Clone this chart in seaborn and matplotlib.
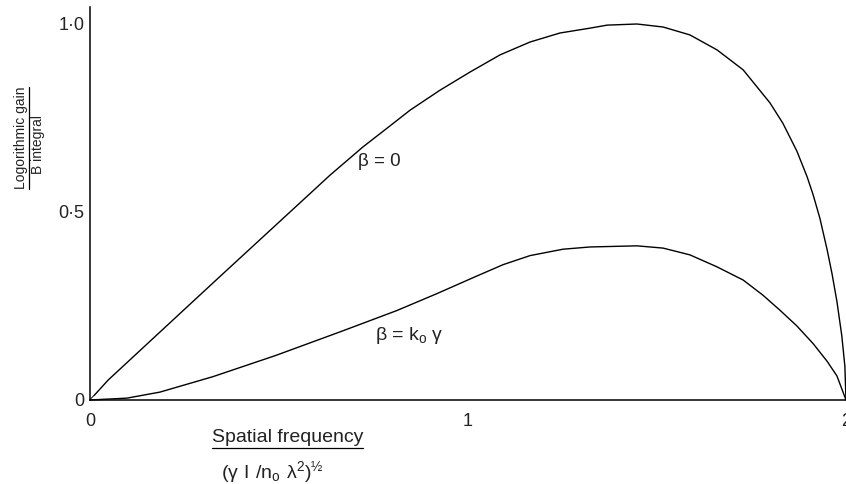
import matplotlib
matplotlib.use("Agg")
import matplotlib.pyplot as plt
import seaborn as sns
import pandas as pd
from matplotlib.lines import Line2D

# ---- data ----
x_beta0 = [0, 0.048, 0.151, 0.325, 0.635, 0.722, 0.786, 0.847, 0.926, 1.005,
           1.085, 1.164, 1.243, 1.323, 1.368, 1.447, 1.516, 1.587, 1.659, 1.728,
           1.799, 1.833, 1.870, 1.897, 1.913, 1.931, 1.950, 1.963, 1.976, 1.989,
           1.997, 2.0]
y_beta0 = [0, 0.053, 0.149, 0.311, 0.598, 0.673, 0.723, 0.771, 0.824, 0.872,
           0.918, 0.952, 0.976, 0.989, 0.997, 1.0, 0.992, 0.971, 0.931, 0.878,
           0.790, 0.736, 0.662, 0.594, 0.546, 0.483, 0.400, 0.336, 0.262, 0.170,
           0.090, 0.0]

x_betak = [0, 0.098, 0.185, 0.325, 0.49, 0.661, 0.722, 0.812, 0.918, 1.024,
           1.093, 1.164, 1.251, 1.323, 1.447, 1.516, 1.587, 1.659, 1.728, 1.780,
           1.825, 1.870, 1.913, 1.950, 1.976, 2.0]
y_betak = [0, 0.005, 0.021, 0.062, 0.118, 0.181, 0.204, 0.238, 0.283, 0.330,
           0.360, 0.384, 0.401, 0.407, 0.410, 0.404, 0.386, 0.354, 0.319, 0.279,
           0.239, 0.197, 0.150, 0.103, 0.064, 0.0]

x_ticks = [0, 1, 2]
x_ticklabels = ["0", "1", "2"]
y_ticks = [0, 0.5, 1.0]
y_ticklabels = ["0", "0·5", "1·0"]

label_beta0 = "β = 0"
label_betak = r"β = k$_{o}$ γ"
ylabel_num = "Logorithmic gain"
ylabel_den = "B integral"
xlabel_num = "Spatial frequency"
xlabel_den = r"$(\gamma\ I\ /n_{o}\ \lambda^{2})^{½}$"

df0 = pd.DataFrame({"x": x_beta0, "y": y_beta0})
dfk = pd.DataFrame({"x": x_betak, "y": y_betak})

# ---- style ----
sns.set_style("white")
plt.rcParams["font.family"] = ["Liberation Sans", "DejaVu Sans"]
plt.rcParams["mathtext.default"] = "regular"

W, H = 846, 484
fig = plt.figure(figsize=(W / 100, H / 100), dpi=100)
ax = fig.add_axes([90 / W, (H - 400) / H, (W - 90) / W, (400 - 7) / H])

sns.lineplot(data=df0, x="x", y="y", ax=ax, color="black", linewidth=1.0,
             sort=False, estimator=None)
sns.lineplot(data=dfk, x="x", y="y", ax=ax, color="black", linewidth=1.0,
             sort=False, estimator=None)
for ln in ax.lines:
    ln.set_clip_on(False)
    ln.set_solid_joinstyle("round")
# small cross at the origin, as in the reference
ax.lines[0].set_marker("x")
ax.lines[0].set_markevery([0])
ax.lines[0].set_markersize(6)
ax.lines[0].set_markeredgewidth(0.9)

ax.set_xlim(0, 2)
ax.set_ylim(0, 393 / 376)
ax.set_xticks(x_ticks)
ax.set_xticklabels(x_ticklabels)
ax.set_yticks(y_ticks)
ax.set_yticklabels(y_ticklabels)
ax.tick_params(direction="in", length=4, width=0.8, labelsize=13,
               colors="black")
ax.tick_params(axis="x", pad=9)
ax.tick_params(axis="y", pad=4)
for lbl in ax.get_xticklabels() + ax.get_yticklabels():
    lbl.set_color("#222222")
ax.set_xlabel("")
ax.set_ylabel("")
sns.despine(ax=ax, top=True, right=True)
for s in ("left", "bottom"):
    ax.spines[s].set_linewidth(1.1)
    ax.spines[s].set_color("black")

# curve annotations
ax.text(0.709, 0.635, label_beta0, ha="left", va="center", fontsize=13.5,
        color="#222222")
ax.text(0.754, 0.172, label_betak, ha="left", va="center", fontsize=14,
        color="#222222")

# x label as a fraction
fig.text(288 / W, 1 - 437 / H, xlabel_num, ha="center", va="center",
         fontsize=14, color="#222222")
fig.text(272 / W, 1 - 472 / H, xlabel_den, ha="center", va="center",
         fontsize=14, color="#222222")
fig.add_artist(Line2D([212 / W, 363 / W], [1 - 448 / H, 1 - 448 / H],
                      transform=fig.transFigure, color="black", lw=0.9))

# y label as a fraction (rotated)
t1 = fig.text(21 / W, 1 - 138 / H, ylabel_num, rotation=90, ha="center",
              va="center", fontsize=10, color="#222222")
t2 = fig.text(38 / W, 1 - 145 / H, ylabel_den, rotation=90, ha="center",
              va="center", fontsize=10, color="#222222")
fig.canvas.draw()
bb = t1.get_window_extent()
fig.add_artist(Line2D([29 / W, 29 / W], [bb.y0 / H, bb.y1 / H],
                      transform=fig.transFigure, color="black", lw=0.9))

fig.savefig("out.png", dpi=100)
